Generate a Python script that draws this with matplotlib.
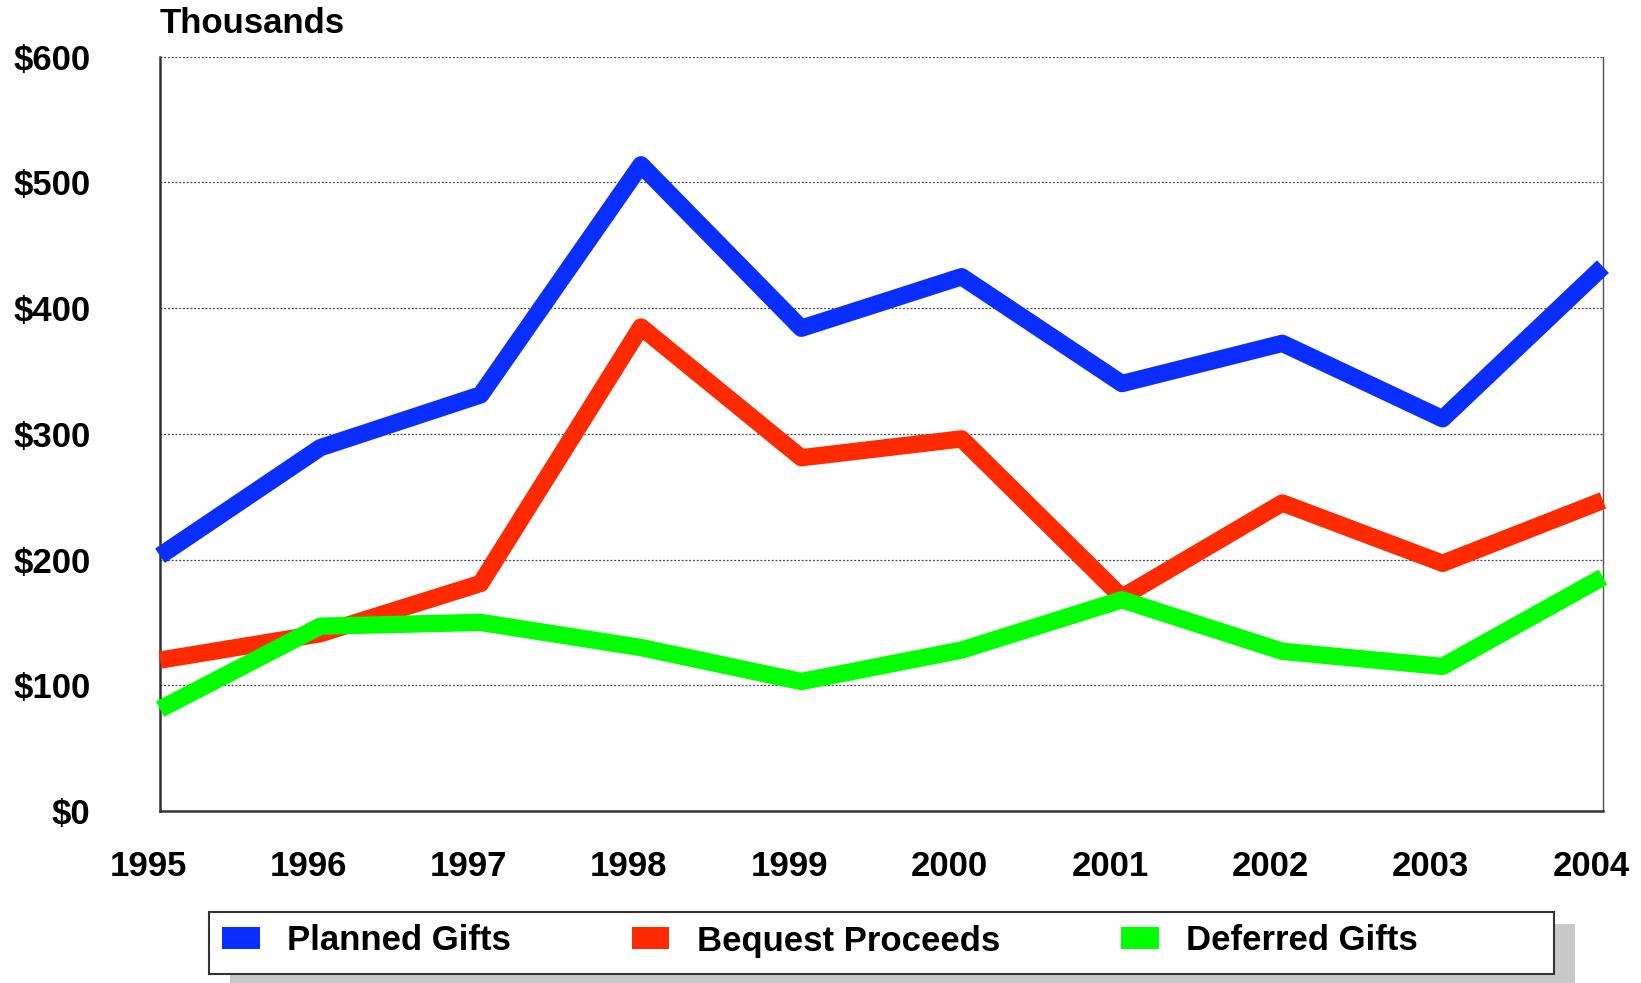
import matplotlib.pyplot as plt
import matplotlib.transforms as mtransforms
from matplotlib.patches import Patch, Rectangle

years = [1995, 1996, 1997, 1998, 1999, 2000, 2001, 2002, 2003, 2004]
planned_gifts = [203, 289, 331, 514, 384, 425, 340, 372, 312, 433]
bequest_proceeds = [120, 141, 181, 385, 281, 296, 170, 245, 197, 247]
deferred_gifts = [81, 147, 150, 130, 103, 128, 168, 127, 115, 186]
y_ticks = [0, 100, 200, 300, 400, 500, 600]
y_labels = ["$0", "$100", "$200", "$300", "$400", "$500", "$600"]

blue = "#0A2EFF"
red = "#FF2A00"
green = "#00FF00"

plt.rcParams['font.family'] = ['Liberation Sans', 'DejaVu Sans']
plt.rcParams['font.weight'] = 'bold'

W, H = 1641, 983
fig = plt.figure(figsize=(W / 100, H / 100), dpi=100)
ax = fig.add_axes([0.0975, 0.175, 0.8793, 0.7673])

lw = 12.5
for vals, col, name in [(planned_gifts, blue, "Planned Gifts"),
                        (bequest_proceeds, red, "Bequest Proceeds"),
                        (deferred_gifts, green, "Deferred Gifts")]:
    ax.plot(years, vals, color=col, lw=lw, solid_joinstyle='round',
            solid_capstyle='butt', clip_on=False, zorder=3, label=name)

ax.set_xlim(1995, 2004)
ax.set_ylim(0, 600)
ax.set_xticks(years)
ax.set_xticklabels([str(y) for y in years])
ax.set_yticks(y_ticks)
ax.set_yticklabels(y_labels)
ax.tick_params(axis='both', length=0, labelsize=25)
ax.tick_params(axis='y', pad=50)
ax.tick_params(axis='x', pad=28)

shift = mtransforms.ScaledTranslation(-12 / 100, 0, fig.dpi_scale_trans)
for lab in ax.get_xticklabels():
    lab.set_transform(lab.get_transform() + shift)

ax.yaxis.grid(True, color='#444444', linestyle=(0, (1.5, 1.5)), linewidth=0.9)
ax.set_axisbelow(True)
ax.spines['top'].set_visible(False)
ax.spines['left'].set_color('#333333')
ax.spines['left'].set_linewidth(1.8)
ax.spines['bottom'].set_color('#333333')
ax.spines['bottom'].set_linewidth(1.8)
ax.spines['right'].set_color('#555555')
ax.spines['right'].set_linewidth(1.0)

ax.annotate("Thousands", xy=(0, 1), xycoords='axes fraction',
            xytext=(0, 24), textcoords='offset points',
            fontsize=25, fontweight='bold', ha='left', va='center')

# legend frame with drop shadow
fx0, fx1, fy0, fy1 = 209, 1554, 912, 974
fig.add_artist(Rectangle(((fx0 + 21) / W, 1 - (fy1 + 12) / H), (fx1 - fx0) / W, (fy1 - fy0) / H,
                         transform=fig.transFigure, facecolor='#c8c8c8', edgecolor='none',
                         zorder=1))
fig.add_artist(Rectangle((fx0 / W, 1 - fy1 / H), (fx1 - fx0) / W, (fy1 - fy0) / H,
                         transform=fig.transFigure, facecolor='white', edgecolor='#333333',
                         linewidth=1.5, zorder=2))

handles = [Patch(facecolor=blue, edgecolor='none', label="Planned Gifts"),
           Patch(facecolor=red, edgecolor='none', label="Bequest Proceeds"),
           Patch(facecolor=green, edgecolor='none', label="Deferred Gifts")]
leg = fig.legend(handles=handles, loc='center left',
                 bbox_to_anchor=(222 / W, 1 - 941 / H),
                 ncol=3, fontsize=25, frameon=False,
                 handlelength=1.08, handleheight=0.6, handletextpad=0.78,
                 columnspacing=3.5, borderaxespad=0, borderpad=0)
leg.set_zorder(3)

fig.savefig("out.png", dpi=100)
